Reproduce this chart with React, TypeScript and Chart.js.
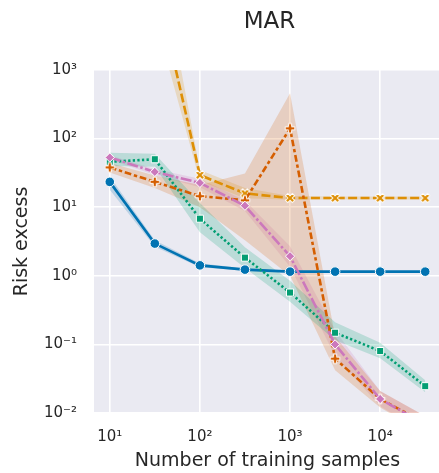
import React, { useEffect, useRef } from "react";
import { Chart, registerables } from "chart.js";

Chart.register(...registerables);

// ---------- data ----------
const samples = [10, 31.6, 100, 316, 1000, 3162, 10000, 31623];

const blueMean = [23.4, 2.95, 1.42, 1.23, 1.15, 1.15, 1.15, 1.15];
const blueUpper = [28, 3.3, 1.52, 1.28, 1.18, 1.17, 1.17, 1.17];
const blueLower = [18, 2.65, 1.33, 1.18, 1.12, 1.13, 1.13, 1.13];

const orangeMean = [200000, 22000, 29.4, 15.9, 13.6, 13.6, 13.6, 13.6];
const orangeUpper = [2000000, 110000, 35, 19, 14.6, 14.3, 14.3, 14.3];
const orangeLower = [20000, 6000, 24, 13.5, 12.8, 13.0, 13.0, 13.0];

const greenMean = [46, 50, 6.8, 1.84, 0.57, 0.148, 0.08, 0.0246];
const greenUpper = [62, 60, 11.5, 2.6, 0.85, 0.21, 0.106, 0.03];
const greenLower = [40, 39, 4.3, 1.3, 0.42, 0.115, 0.063, 0.02];

const redMean = [38, 23.4, 14.5, 12.6, 141, 0.062, 0.016, 0.0071];
const redUpper = [44, 29, 21, 31, 460, 0.13, 0.021, 0.009];
const redLower = [32, 19, 10, 3.3, 1.0, 0.042, 0.012, 0.005];

const pinkMean = [53, 32.7, 22.6, 10.5, 1.93, 0.1, 0.016, 0.0068];
const pinkUpper = [57, 36, 26, 12.5, 2.7, 0.16, 0.021, 0.009];
const pinkLower = [49, 29.5, 19.5, 8.8, 1.35, 0.068, 0.0125, 0.005];

const xTickValues = [10, 100, 1000, 10000];
const xTickLabels = ["10\u00B9", "10\u00B2", "10\u00B3", "10\u2074"];
const yTickValues = [0.01, 0.1, 1, 10, 100, 1000];
const yTickLabels = ["10\u207B\u00B2", "10\u207B\u00B9", "10\u2070", "10\u00B9", "10\u00B2", "10\u00B3"];

const titleText = "MAR";
const xTitle = "Number of training samples";
const yTitle = "Risk excess";

// ---------- helpers ----------
const FONT = "'DejaVu Sans', sans-serif";
const TEXT = "#262626";

function pts(vals: number[]) {
  return samples.map((x, i) => ({ x, y: vals[i] }));
}

function rgba(hex: string, a: number) {
  const n = parseInt(hex.slice(1), 16);
  return `rgba(${(n >> 16) & 255},${(n >> 8) & 255},${n & 255},${a})`;
}

function makeMarker(kind: "X" | "P", color: string) {
  const c = document.createElement("canvas");
  c.width = 14;
  c.height = 14;
  const g = c.getContext("2d")!;
  const a = 1.6;
  const e = 4.8;
  const poly = [
    [-a, -e], [a, -e], [a, -a], [e, -a], [e, a], [a, a],
    [a, e], [-a, e], [-a, a], [-e, a], [-e, -a], [-a, -a],
  ];
  g.translate(7, 7);
  if (kind === "X") g.rotate(Math.PI / 4);
  g.beginPath();
  poly.forEach(([px, py], i) => (i ? g.lineTo(px, py) : g.moveTo(px, py)));
  g.closePath();
  g.fillStyle = color;
  g.fill();
  g.lineWidth = 1;
  g.strokeStyle = "#ffffff";
  g.stroke();
  return c;
}

const bgPlugin = {
  id: "bgArea",
  beforeDraw(chart: any) {
    const { ctx, chartArea: a } = chart;
    ctx.save();
    ctx.fillStyle = "#eaeaf2";
    ctx.fillRect(a.left, a.top, a.right - a.left, a.bottom - a.top);
    ctx.restore();
  },
};

const textPlugin = {
  id: "texts",
  afterDraw(chart: any) {
    const { ctx, chartArea: a } = chart;
    const cx = (a.left + a.right) / 2;
    const cy = (a.top + a.bottom) / 2;
    ctx.save();
    ctx.fillStyle = TEXT;
    ctx.textAlign = "center";
    ctx.textBaseline = "alphabetic";
    ctx.font = `23px ${FONT}`;
    ctx.fillText(titleText, cx + 2, 28);
    ctx.font = `19px ${FONT}`;
    ctx.fillText(xTitle, cx, 466);
    ctx.translate(27, cy);
    ctx.rotate(-Math.PI / 2);
    ctx.fillText(yTitle, 0, 0);
    ctx.restore();
  },
};

export default function App() {
  const ref = useRef<HTMLCanvasElement | null>(null);

  useEffect(() => {
    if (!ref.current) return;

    const series = [
      { color: "#0173b2", mean: blueMean, up: blueUpper, lo: blueLower, style: "circle", radius: 4.8, dash: [], order: 5 },
      { color: "#de8f05", mean: orangeMean, up: orangeUpper, lo: orangeLower, style: makeMarker("X", "#de8f05"), radius: 5, dash: [9, 3.4], order: 4 },
      { color: "#029e73", mean: greenMean, up: greenUpper, lo: greenLower, style: "rect", radius: 5, dash: [2.3, 2.3], order: 3 },
      { color: "#d55e00", mean: redMean, up: redUpper, lo: redLower, style: makeMarker("P", "#d55e00"), radius: 5, dash: [6.75, 2.8, 3.4, 2.8], order: 2 },
      { color: "#cc78bc", mean: pinkMean, up: pinkUpper, lo: pinkLower, style: "rectRot", radius: 4.6, dash: [11, 2.5, 2.5, 2.5], order: 1 },
    ];

    const datasets: any[] = [];
    series.forEach((s) => {
      const upIdx = datasets.length;
      datasets.push({
        data: pts(s.up),
        borderWidth: 0,
        pointRadius: 0,
        fill: false,
        order: 10,
        clip: 0,
      });
      datasets.push({
        data: pts(s.lo),
        borderWidth: 0,
        pointRadius: 0,
        fill: upIdx,
        backgroundColor: rgba(s.color, 0.2),
        order: 10,
        clip: 0,
      });
    });
    series.forEach((s) => {
      datasets.push({
        data: pts(s.mean),
        borderColor: s.color,
        borderWidth: 2.6,
        borderDash: s.dash,
        fill: false,
        pointStyle: s.style,
        pointRadius: s.radius,
        pointBackgroundColor: s.color,
        pointBorderColor: "#ffffff",
        pointBorderWidth: 1,
        order: s.order,
        clip: 0,
      });
    });

    const chart = new Chart(ref.current, {
      type: "line",
      data: { datasets },
      plugins: [bgPlugin, textPlugin],
      options: {
        animation: false,
        responsive: false,
        events: [],
        layout: { padding: { top: 70, left: 0, right: 0, bottom: 0 } },
        plugins: {
          legend: { display: false },
          tooltip: { enabled: false },
          title: { display: false },
          filler: { propagate: false },
        },
        elements: { line: { tension: 0 } },
        scales: {
          x: {
            type: "logarithmic",
            min: Math.pow(10, 0.825),
            max: Math.pow(10, 4.675),
            afterBuildTicks: (scale: any) => {
              scale.ticks = xTickValues.map((v) => ({ value: v }));
            },
            afterFit: (scale: any) => {
              scale.height = 60;
            },
            ticks: {
              autoSkip: false,
              maxRotation: 0,
              padding: 15,
              color: TEXT,
              font: { size: 15, family: FONT },
              callback: (v: any) => {
                const i = xTickValues.indexOf(Number(v));
                return i >= 0 ? xTickLabels[i] : "";
              },
            },
            grid: { color: "#ffffff", lineWidth: 1.6, drawTicks: false },
            border: { display: false },
          },
          y: {
            type: "logarithmic",
            min: 0.01,
            max: 1000,
            afterBuildTicks: (scale: any) => {
              scale.ticks = yTickValues.map((v) => ({ value: v }));
            },
            afterFit: (scale: any) => {
              scale.width = 94;
            },
            ticks: {
              autoSkip: false,
              padding: 17,
              color: TEXT,
              font: { size: 15, family: FONT },
              callback: (v: any) => {
                const n = Number(v);
                const i = yTickValues.findIndex((t) => Math.abs(t - n) / t < 1e-6);
                return i >= 0 ? yTickLabels[i] : "";
              },
            },
            grid: { color: "#ffffff", lineWidth: 1.6, drawTicks: false },
            border: { display: false },
          },
        },
      } as any,
    });

    return () => chart.destroy();
  }, []);

  return (
    <div style={{ position: "absolute", left: 0, top: 0, width: 439, height: 473, overflow: "hidden", background: "#ffffff" }}>
      <canvas ref={ref} width={447} height={473} style={{ display: "block", width: 447, height: 473 }} />
    </div>
  );
}
